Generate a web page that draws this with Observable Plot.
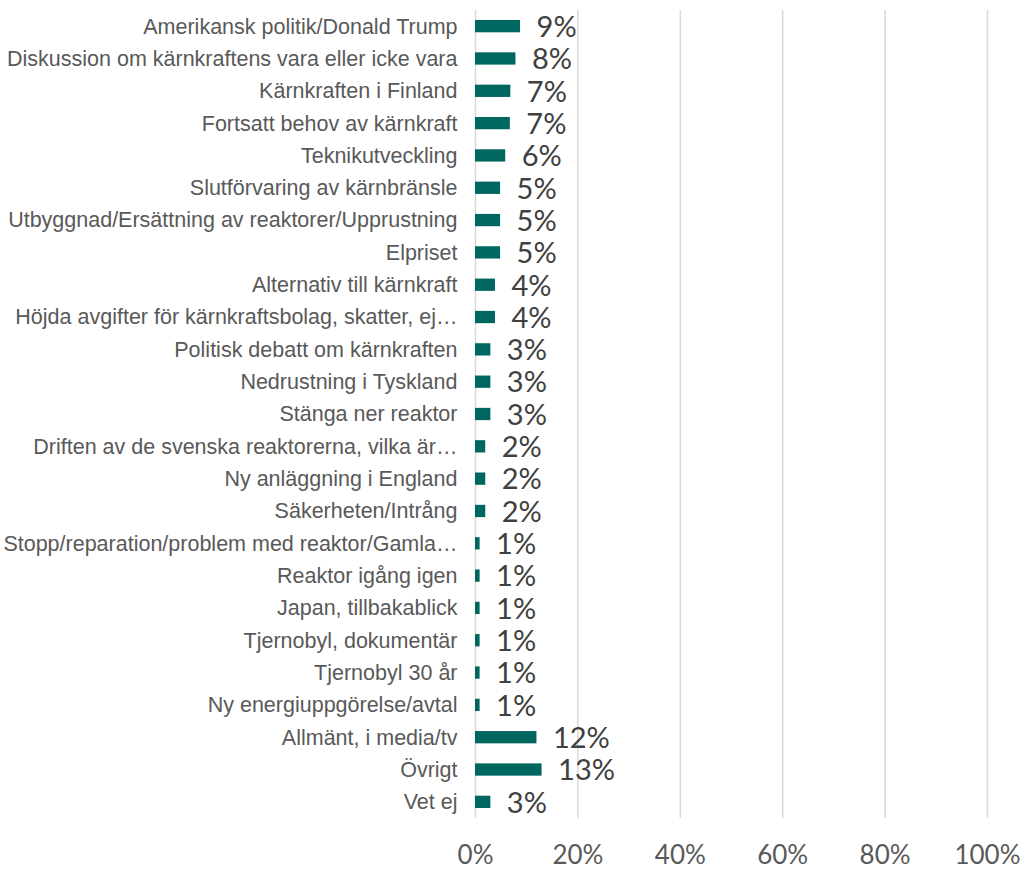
<!DOCTYPE html>
<html>
<head>
<meta charset="utf-8">
<script src="https://cdn.jsdelivr.net/npm/d3@7"></script>
<script src="https://cdn.jsdelivr.net/npm/@observablehq/plot@0.6"></script>
<style>
  html, body { margin: 0; padding: 0; background: #fff; }
  #chart { width: 1024px; height: 869px; }
</style>
</head>
<body>
<div id="chart"></div>
<script>
const categories = [
  "Amerikansk politik/Donald Trump",
  "Diskussion om kärnkraftens vara eller icke vara",
  "Kärnkraften i Finland",
  "Fortsatt behov av kärnkraft",
  "Teknikutveckling",
  "Slutförvaring av kärnbränsle",
  "Utbyggnad/Ersättning av reaktorer/Upprustning",
  "Elpriset",
  "Alternativ till kärnkraft",
  "Höjda avgifter för kärnkraftsbolag, skatter, ej…",
  "Politisk debatt om kärnkraften",
  "Nedrustning i Tyskland",
  "Stänga ner reaktor",
  "Driften av de svenska reaktorerna, vilka är…",
  "Ny anläggning i England",
  "Säkerheten/Intrång",
  "Stopp/reparation/problem med reaktor/Gamla…",
  "Reaktor igång igen",
  "Japan, tillbakablick",
  "Tjernobyl, dokumentär",
  "Tjernobyl 30 år",
  "Ny energiuppgörelse/avtal",
  "Allmänt, i media/tv",
  "Övrigt",
  "Vet ej"
];
const values = [
  0.088, 0.079, 0.069, 0.068, 0.059, 0.049, 0.049, 0.049, 0.039, 0.039,
  0.030, 0.030, 0.030, 0.020, 0.020, 0.020, 0.009, 0.009, 0.009, 0.009,
  0.009, 0.009, 0.120, 0.130, 0.030
];
const valueLabels = [
  "9%", "8%", "7%", "7%", "6%", "5%", "5%", "5%", "4%", "4%",
  "3%", "3%", "3%", "2%", "2%", "2%", "1%", "1%", "1%", "1%",
  "1%", "1%", "12%", "13%", "3%"
];
const xTicks = [0, 0.2, 0.4, 0.6, 0.8, 1.0];

const data = categories.map((c, i) => ({category: c, value: values[i], label: valueLabels[i]}));

const chart = Plot.plot({
  width: 1024,
  height: 869,
  marginLeft: 475,
  marginRight: 37,
  marginTop: 10,
  marginBottom: 51,
  style: {background: "#fff"},
  x: {domain: [0, 1], ticks: xTicks},
  y: {domain: categories, paddingInner: 0.62, paddingOuter: 0.31, round: false},
  marks: [
    Plot.gridX(xTicks, {stroke: "#d9d9d9", strokeOpacity: 1, strokeWidth: 1.5}),
    Plot.barX(data, {y: "category", x: "value", fill: "#006660"}),
    Plot.text(data, {
      y: "category", x: "value", text: "label",
      textAnchor: "start", dx: 16, dy: 1,
      fontSize: 29, fill: "#404040", fontFamily: "Lato"
    }),
    Plot.axisY({
      tickSize: 0, tickPadding: 18, label: null,
      fontSize: 21.5, fontFamily: "Liberation Sans", color: "#595959"
    }),
    Plot.axisX(xTicks, {
      tickSize: 0, tickPadding: 27, label: null,
      tickFormat: d => Math.round(d * 100) + "%",
      fontSize: 26, fontFamily: "Lato", color: "#595959"
    })
  ]
});
document.getElementById("chart").appendChild(chart);
</script>
</body>
</html>
